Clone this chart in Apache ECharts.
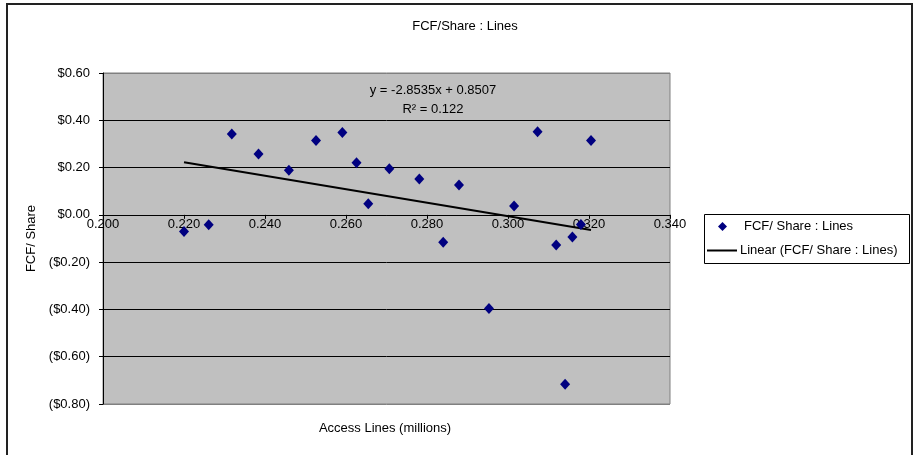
<!DOCTYPE html>
<html>
<head>
<meta charset="utf-8">
<script src="https://cdn.jsdelivr.net/npm/echarts@6/dist/echarts.min.js"></script>
<style>
  html, body { margin: 0; padding: 0; background: #ffffff; }
  #chart { width: 915px; height: 455px; }
</style>
</head>
<body>
<div id="chart"></div>
<script>
// Access lines (millions) per observation
const accessLines = [
  0.2200, 0.2261, 0.2318, 0.2384, 0.2459, 0.2526, 0.2591, 0.2626, 0.2655, 0.2707,
  0.2781, 0.2879, 0.2840, 0.2953, 0.3015, 0.3073, 0.3119, 0.3141, 0.3159, 0.3180, 0.3205
];
// Free cash flow per share for the same observations
const fcfPerShare = [
  -0.070, -0.042, 0.342, 0.257, 0.189, 0.314, 0.348, 0.220, 0.047, 0.195,
  0.152, 0.126, -0.116, -0.396, 0.037, 0.352, -0.127, -0.716, -0.094, -0.041, 0.314
];
// Least-squares fit shown on the chart
const trendSlope = -2.8535;
const trendIntercept = 0.8507;
const trendRSquared = 0.122;

const xTickValues = [0.200, 0.220, 0.240, 0.260, 0.280, 0.300, 0.320, 0.340];
const yTickValues = [0.60, 0.40, 0.20, 0.00, -0.20, -0.40, -0.60, -0.80];

const seriesName = 'FCF/ Share : Lines';
const trendName = 'Linear (FCF/ Share : Lines)';

const points = accessLines.map((x, i) => [x, fcfPerShare[i]]);
const xLo = Math.min(...accessLines);
const xHi = Math.max(...accessLines);
const trendPoints = [xLo, xHi].map(x => [x, trendSlope * x + trendIntercept]);

const money = v => {
  const s = '$' + Math.abs(v).toFixed(2);
  return v < -1e-9 ? '(' + s + ')' : s;
};

// plot box
const gridTop = 73, gridBottom = 51, chartH = 455;
const plotH = chartH - gridTop - gridBottom;
const yMin = yTickValues[yTickValues.length - 1], yMax = yTickValues[0];
// the x axis crosses the y axis at zero
const zeroOffset = -plotH * (0 - yMin) / (yMax - yMin);

// inner gridlines black, outer edges match the plot frame
const gridLineColors = yTickValues.slice().reverse().map((v, i, a) =>
  (i === 0 || i === a.length - 1) ? '#808080' : '#000000');

const font = 'Liberation Sans, Arial, sans-serif';
const fs = 13;
const chart = echarts.init(document.getElementById('chart'), null, { renderer: 'canvas' });

chart.setOption({
  animation: false,
  backgroundColor: '#ffffff',
  textStyle: { fontFamily: font, color: '#000' },
  title: {
    text: 'FCF/Share : Lines',
    left: 460, top: 15, textAlign: 'center',
    textStyle: { fontFamily: font, fontSize: fs, fontWeight: 'normal', color: '#000' }
  },
  grid: {
    left: 103, right: 245, top: gridTop, bottom: gridBottom,
    show: true, backgroundColor: '#C0C0C0', borderColor: '#808080', borderWidth: 1
  },
  xAxis: {
    type: 'value',
    min: xTickValues[0], max: xTickValues[xTickValues.length - 1],
    interval: 0.02,
    position: 'bottom',
    offset: zeroOffset,
    axisLine: { onZero: false, lineStyle: { color: '#000', width: 1 } },
    axisTick: { show: true, inside: false, length: 4, lineStyle: { color: '#000' } },
    splitLine: { show: false },
    axisLabel: {
      margin: 3, fontSize: fs, fontFamily: font, color: '#000',
      showMinLabel: true, showMaxLabel: true, hideOverlap: false,
      formatter: v => {
        const t = xTickValues.find(k => Math.abs(k - v) < 1e-9);
        return t === undefined ? '' : t.toFixed(3);
      }
    }
  },
  yAxis: {
    type: 'value',
    min: yMin, max: yMax,
    interval: 0.2,
    name: 'FCF/ Share',
    nameLocation: 'middle', nameRotate: 90, nameGap: 60,
    nameTextStyle: { fontFamily: font, fontSize: fs, color: '#000' },
    axisLine: { show: true, onZero: false, lineStyle: { color: '#000', width: 1 } },
    axisTick: { show: true, inside: false, length: 4, lineStyle: { color: '#000' } },
    splitLine: { show: true, lineStyle: { color: gridLineColors, width: 1 } },
    axisLabel: {
      margin: 13, fontSize: fs, fontFamily: font, color: '#000',
      formatter: v => {
        const t = yTickValues.find(k => Math.abs(k - v) < 1e-9);
        return t === undefined ? '' : money(t);
      }
    }
  },
  legend: [
    {
      data: [seriesName],
      left: 718, top: 220, orient: 'vertical',
      itemWidth: 9, itemHeight: 9, padding: 0,
      textStyle: { fontFamily: font, fontSize: fs, color: '#000', padding: [0, 0, 0, 12] }
    },
    {
      data: [{ name: trendName, icon: 'rect' }],
      left: 707, top: 244, orient: 'vertical',
      itemWidth: 30, itemHeight: 2, itemGap: 0, padding: 0,
      textStyle: { fontFamily: font, fontSize: fs, color: '#000', padding: [0, 0, 0, -2] }
    }
  ],
  graphic: [
    {
      type: 'rect', silent: true, z: 100,
      shape: { x: 7, y: 4, width: 905, height: 460 },
      style: { fill: 'none', stroke: '#222', lineWidth: 2 }
    },
    {
      type: 'rect', silent: true, z: 100,
      shape: { x: 704.5, y: 214.5, width: 205, height: 49 },
      style: { fill: 'none', stroke: '#000', lineWidth: 1 }
    },
    {
      type: 'text', z: 100,
      position: [433, 90],
      style: {
        text: 'y = ' + trendSlope.toFixed(4) + 'x + ' + trendIntercept.toFixed(4),
        x: 0, y: 0, align: 'center', verticalAlign: 'middle',
        font: fs + 'px ' + font, fill: '#000'
      }
    },
    {
      type: 'text', z: 100,
      position: [433, 109],
      style: {
        text: 'R² = ' + trendRSquared.toFixed(3),
        x: 0, y: 0, align: 'center', verticalAlign: 'middle',
        font: fs + 'px ' + font, fill: '#000'
      }
    },
    {
      type: 'text', z: 100,
      position: [385, 428],
      style: {
        text: 'Access Lines (millions)',
        x: 0, y: 0, align: 'center', verticalAlign: 'middle',
        font: fs + 'px ' + font, fill: '#000'
      }
    }
  ],
  series: [
    {
      name: trendName,
      type: 'line',
      data: trendPoints,
      symbol: 'none',
      lineStyle: { color: '#000', width: 2 },
      itemStyle: { color: '#000' },
      z: 3
    },
    {
      name: seriesName,
      type: 'scatter',
      data: points,
      symbol: 'diamond',
      symbolSize: [10, 11],
      itemStyle: { color: '#000080', opacity: 1 },
      z: 4
    }
  ]
});
</script>
</body>
</html>
